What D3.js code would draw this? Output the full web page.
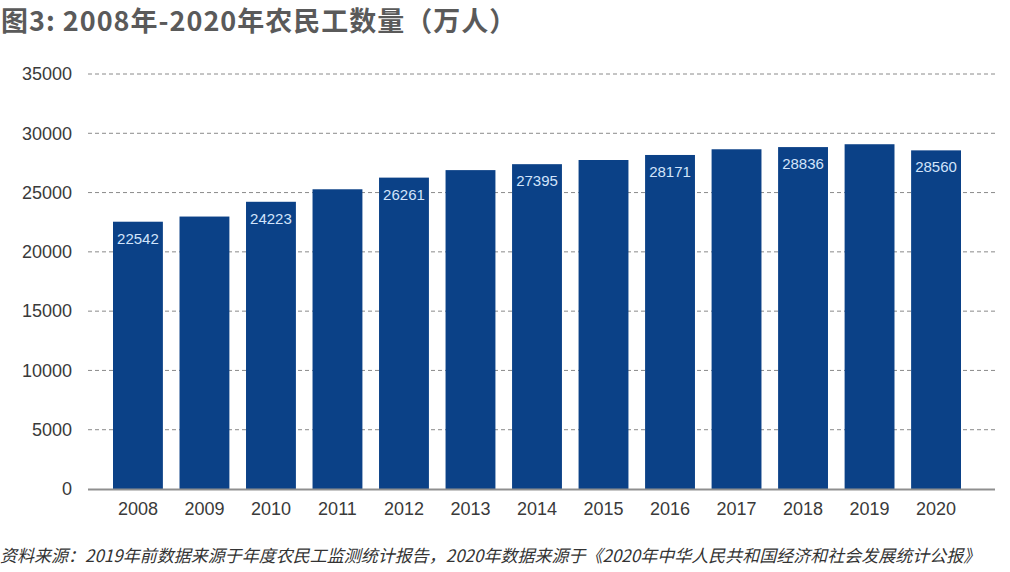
<!DOCTYPE html>
<html>
<head>
<meta charset="utf-8">
<script src="https://cdn.jsdelivr.net/npm/d3@7/dist/d3.min.js"></script>
<style>
  body { margin: 0; background: #fff; }
  svg { display: block; font-family: "Noto Sans CJK SC", "Liberation Sans", sans-serif; }
</style>
</head>
<body>
<svg id="chart" width="1010" height="572"></svg>
<script>
// 年份 & 农民工数量（万人）
const years = ["2008", "2009", "2010", "2011", "2012", "2013", "2014", "2015", "2016", "2017", "2018", "2019", "2020"];
const workers = [22542, 22978, 24223, 25278, 26261, 26894, 27395, 27747, 28171, 28652, 28836, 29077, 28560];
// 只有部分柱子标了数值
const labeledYears = ["2008", "2010", "2012", "2014", "2016", "2018", "2020"];
const yTicks = [0, 5000, 10000, 15000, 20000, 25000, 30000, 35000];

const titleText = "图3: 2008年-2020年农民工数量（万人）";
const sourceText = "资料来源：2019年前数据来源于年度农民工监测统计报告，2020年数据来源于《2020年中华人民共和国经济和社会发展统计公报》";

const data = years.map((y, i) => ({ year: y, value: workers[i] }));

const svg = d3.select("#chart");
const plotLeft = 88, plotRight = 995, plotTop = 74, plotBottom = 489;

const x = d3.scaleBand()
    .domain(years)
    .range([113, 961])
    .paddingInner(0.25)
    .paddingOuter(0);

const y = d3.scaleLinear()
    .domain([0, 35000])
    .range([plotBottom, plotTop]);

// 标题
svg.append("text")
    .attr("x", 1)
    .attr("y", 31)
    .attr("font-size", 27)
    .attr("font-weight", "bold")
    .attr("letter-spacing", 1)
    .attr("fill", "#5a5a5a")
    .text(titleText);

// 网格线（虚线）
svg.append("g")
    .selectAll("line")
    .data(yTicks.filter(d => d > 0))
    .enter().append("line")
    .attr("x1", plotLeft)
    .attr("x2", plotRight)
    .attr("y1", d => y(d))
    .attr("y2", d => y(d))
    .attr("stroke", "#8a8a8a")
    .attr("stroke-width", 1)
    .attr("stroke-dasharray", "4,3");

// y 轴标签
const yAxis = svg.append("g")
    .attr("transform", `translate(${plotLeft - 16},0)`)
    .call(d3.axisLeft(y).tickValues(yTicks).tickSize(0).tickPadding(0).tickFormat(d3.format("d")));
yAxis.select(".domain").remove();
yAxis.selectAll("text")
    .attr("font-size", 18)
    .attr("fill", "#3a3a3a")
    .attr("font-family", "Liberation Sans, sans-serif");

// 柱子
svg.append("g")
    .selectAll("rect")
    .data(data)
    .enter().append("rect")
    .attr("x", d => x(d.year))
    .attr("y", d => y(d.value))
    .attr("width", x.bandwidth())
    .attr("height", d => plotBottom - y(d.value))
    .attr("fill", "#0b4187");

// 柱内数值
svg.append("g")
    .selectAll("text")
    .data(data.filter(d => labeledYears.includes(d.year)))
    .enter().append("text")
    .attr("x", d => x(d.year) + x.bandwidth() / 2)
    .attr("y", d => y(d.value) + 22)
    .attr("text-anchor", "middle")
    .attr("font-size", 15)
    .attr("font-family", "Liberation Sans, sans-serif")
    .attr("fill", "#d2e4fb")
    .text(d => d.value);

// x 轴
const xAxis = svg.append("g")
    .attr("transform", `translate(0,${plotBottom})`)
    .call(d3.axisBottom(x).tickSize(0).tickPadding(13));
xAxis.select(".domain").remove();
xAxis.selectAll("text")
    .attr("font-size", 18)
    .attr("fill", "#3a3a3a")
    .attr("font-family", "Liberation Sans, sans-serif");

svg.append("line")
    .attr("x1", plotLeft)
    .attr("x2", plotRight)
    .attr("y1", plotBottom + 0.5)
    .attr("y2", plotBottom + 0.5)
    .attr("stroke", "#8f8f8f")
    .attr("stroke-width", 2);

// 资料来源
svg.append("text")
    .attr("x", 0)
    .attr("y", 562)
    .attr("font-size", 17)
    .attr("font-style", "italic")
    .attr("fill", "#333")
    .text(sourceText);
</script>
</body>
</html>
